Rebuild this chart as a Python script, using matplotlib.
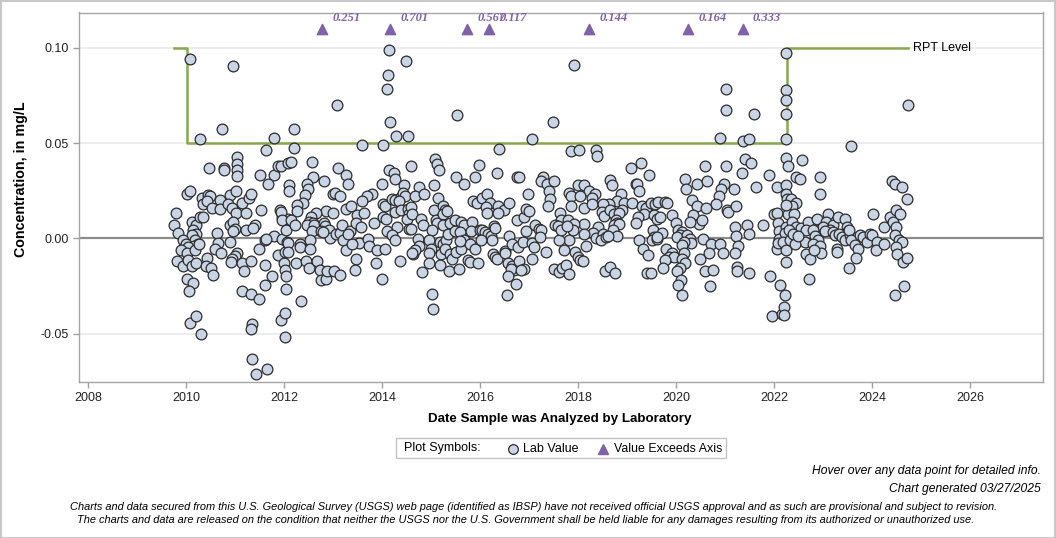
import matplotlib
matplotlib.use("Agg")
import matplotlib.pyplot as plt
import matplotlib.transforms as mtransforms
from matplotlib.lines import Line2D
from matplotlib.patches import Rectangle

plt.rcParams['font.family'] = ['Liberation Sans', 'DejaVu Sans']

# ---------------- data ----------------
# Lab values (decimal year of analysis, concentration mg/L)
dates_2009_2012 = [
    2010.09, 2010.95, 2010.74, 2010.29, 2011.80, 2011.63, 2011.05, 2011.05, 2011.05, 2011.05,
    2010.46, 2010.78, 2010.78, 2011.50, 2011.80, 2011.68, 2011.88, 2011.93, 2012.09, 2010.03,
    2010.09, 2010.33, 2010.44, 2010.49, 2010.35, 2010.42, 2010.70, 2010.54, 2010.70, 2010.90,
    2011.02, 2010.86, 2010.93, 2011.15, 2011.29, 2011.32, 2011.02, 2011.22, 2011.54, 2011.92,
    2011.96, 2012.09, 2009.80, 2009.76, 2009.84, 2010.12, 2010.20, 2010.29, 2010.35, 2010.15,
    2010.20, 2010.12, 2010.18, 2009.94, 2010.00, 2010.25, 2010.17, 2010.05, 2009.90, 2010.01,
    2010.18, 2010.27, 2010.64, 2010.66, 2010.59, 2010.71, 2010.90, 2010.96, 2010.99, 2010.95,
    2010.90, 2011.22, 2011.41, 2011.37, 2011.05, 2011.00, 2010.93, 2010.91, 2011.14, 2011.18,
    2011.33, 2009.81, 2009.94, 2010.05, 2010.12, 2010.20, 2010.42, 2010.41, 2010.52, 2010.56,
    2010.03, 2010.15, 2010.06, 2011.14, 2011.32, 2011.48, 2011.61, 2011.76, 2011.61, 2011.48,
    2011.61, 2011.80, 2011.95, 2011.63, 2011.88, 2012.00, 2012.03, 2012.05, 2012.04, 2011.94,
    2011.96, 2012.05, 2012.07, 2012.03, 2010.08, 2010.20, 2010.31, 2011.34, 2011.32, 2011.35,
    2011.43, 2011.66, 2011.94, 2012.03, 2012.01,
]
conc_2009_2012 = [
    0.0943, 0.0906, 0.0575, 0.0520, 0.0528, 0.0465, 0.0429, 0.0388, 0.0357, 0.0329,
    0.0367, 0.0369, 0.0360, 0.0330, 0.0330, 0.0287, 0.0378, 0.0378, 0.0395, 0.0234,
    0.0247, 0.0211, 0.0229, 0.0220, 0.0178, 0.0194, 0.0199, 0.0159, 0.0156, 0.0229,
    0.0247, 0.0178, 0.0159, 0.0187, 0.0211, 0.0234, 0.0133, 0.0133, 0.0147, 0.0147,
    0.0112, 0.0100, 0.0133, 0.0068, 0.0028, 0.0086, 0.0068, 0.0112, 0.0112, 0.0042,
    0.0025, 0.0016, -0.0007, -0.0007, -0.0028, -0.0031, -0.0042, -0.0045, -0.0063, -0.0075,
    -0.0063, -0.0031, 0.0028, -0.0023, -0.0054, -0.0077, 0.0068, 0.0086, 0.0051, 0.0038,
    -0.0021, 0.0046, 0.0068, 0.0056, -0.0075, -0.0094, -0.0110, -0.0124, -0.0130, -0.0171,
    -0.0121, -0.0119, -0.0145, -0.0112, -0.0145, -0.0130, -0.0101, -0.0145, -0.0154, -0.0190,
    -0.0211, -0.0232, -0.0278, -0.0276, -0.0290, -0.0320, -0.0142, -0.0199, -0.0243, -0.0054,
    -0.0010, 0.0010, -0.0002, -0.0005, -0.0089, -0.0130, -0.0164, -0.0198, -0.0264, 0.0138,
    0.0098, 0.0046, -0.0019, -0.0072, -0.0442, -0.0409, -0.0500, -0.0451, -0.0474, -0.0631,
    -0.0710, -0.0684, -0.0430, -0.0390, -0.0518,
]

dates_2012_2014 = [
    2014.14, 2014.48, 2014.12, 2014.11, 2013.09, 2014.17, 2012.20, 2012.20, 2013.60, 2014.03,
    2014.29, 2014.53, 2012.14, 2012.58, 2013.10, 2013.27, 2013.31, 2012.60, 2012.82, 2012.11,
    2012.11, 2012.46, 2012.48, 2012.42, 2012.38, 2012.26, 2012.26, 2014.14, 2014.24, 2014.26,
    2014.00, 2014.45, 2014.60, 2013.00, 2013.05, 2013.15, 2013.80, 2013.69, 2013.59, 2013.27,
    2013.37, 2012.86, 2013.00, 2012.66, 2012.56, 2012.52, 2012.59, 2012.14, 2012.22, 2012.46,
    2012.61, 2012.82, 2012.83, 2012.57, 2012.76, 2012.91, 2012.93, 2012.80, 2013.07, 2013.14,
    2013.19, 2013.20, 2013.34, 2013.31, 2013.48, 2013.63, 2013.84, 2013.46, 2013.58, 2014.03,
    2014.07, 2014.02, 2014.09, 2014.10, 2014.20, 2014.27, 2014.38, 2014.43, 2014.46, 2014.34,
    2014.26, 2014.39, 2014.54, 2014.56, 2014.50, 2014.31, 2014.56, 2013.53, 2013.71, 2013.73,
    2013.90, 2014.07, 2014.21, 2014.27, 2012.08, 2012.32, 2012.33, 2012.54, 2012.53, 2012.08,
    2013.26, 2013.39, 2012.25, 2012.44, 2012.50, 2012.68, 2012.73, 2012.76, 2012.85, 2012.88,
    2013.03, 2013.14, 2013.46, 2013.44, 2013.88, 2013.99, 2014.37, 2014.63, 2012.35,
]
conc_2012_2014 = [
    0.0986, 0.0929, 0.0855, 0.0785, 0.0698, 0.0609, 0.0575, 0.0476, 0.0488, 0.0488,
    0.0535, 0.0535, 0.0399, 0.0399, 0.0367, 0.0330, 0.0287, 0.0320, 0.0299, 0.0278,
    0.0247, 0.0287, 0.0257, 0.0229, 0.0187, 0.0177, 0.0144, 0.0357, 0.0345, 0.0310,
    0.0287, 0.0278, 0.0378, 0.0231, 0.0238, 0.0220, 0.0234, 0.0222, 0.0196, 0.0156,
    0.0168, 0.0144, 0.0135, 0.0135, 0.0112, 0.0086, 0.0080, 0.0098, 0.0068, 0.0068,
    0.0068, 0.0080, 0.0063, 0.0037, 0.0038, 0.0046, 0.0004, 0.0033, 0.0021, 0.0028,
    0.0072, -0.0010, 0.0038, 0.0025, 0.0121, 0.0135, 0.0080, 0.0080, 0.0059, 0.0182,
    0.0168, 0.0112, 0.0100, 0.0038, 0.0205, 0.0199, 0.0217, 0.0236, 0.0223, 0.0194,
    0.0138, 0.0147, 0.0156, 0.0130, 0.0100, 0.0059, 0.0051, -0.0025, -0.0002, -0.0042,
    -0.0063, -0.0054, 0.0016, -0.0010, -0.0025, -0.0031, -0.0045, -0.0010, -0.0054, -0.0072,
    -0.0063, -0.0031, -0.0130, -0.0119, -0.0154, -0.0121, -0.0164, -0.0217, -0.0211, -0.0171,
    -0.0173, -0.0190, -0.0110, -0.0164, -0.0130, -0.0211, -0.0121, -0.0080, -0.0331,
]

dates_2014_2017 = [
    2015.53, 2017.06, 2016.39, 2015.08, 2015.13, 2015.17, 2015.50, 2015.68, 2015.89, 2015.97,
    2016.35, 2016.76, 2016.80, 2014.76, 2014.67, 2014.85, 2015.07, 2015.15, 2014.59, 2014.62,
    2014.80, 2014.83, 2014.59, 2014.73, 2014.76, 2014.67, 2014.62, 2015.07, 2015.10, 2015.13,
    2015.25, 2015.29, 2015.24, 2015.32, 2015.25, 2015.02, 2014.96, 2015.01, 2014.96, 2015.19,
    2015.25, 2015.31, 2015.34, 2015.20, 2015.29, 2015.39, 2015.43, 2015.51, 2015.61, 2014.96,
    2014.82, 2015.19, 2015.36, 2015.58, 2015.75, 2015.80, 2015.95, 2015.02, 2015.05, 2015.39,
    2015.48, 2015.61, 2015.68, 2015.84, 2015.48, 2015.60, 2015.82, 2015.68, 2015.80, 2015.90,
    2015.60, 2015.85, 2015.94, 2016.04, 2016.14, 2016.20, 2016.12, 2016.14, 2016.37, 2016.48,
    2016.37, 2016.60, 2015.99, 2016.05, 2016.10, 2016.16, 2016.22, 2016.24, 2016.03, 2016.29,
    2016.31, 2016.27, 2016.31, 2016.35, 2016.51, 2016.50, 2016.60, 2016.58, 2016.66, 2016.70,
    2016.63, 2016.80, 2016.90, 2016.84, 2016.58, 2016.73, 2016.55, 2016.65, 2016.77, 2016.87,
    2016.94, 2016.76, 2016.90, 2016.97, 2016.94, 2017.01, 2017.07, 2017.11, 2017.07, 2017.12,
]
conc_2014_2017 = [
    0.0645, 0.0520, 0.0467, 0.0418, 0.0388, 0.0357, 0.0320, 0.0287, 0.0320, 0.0387,
    0.0345, 0.0320, 0.0320, 0.0269, 0.0222, 0.0231, 0.0278, 0.0211, 0.0164, 0.0130,
    0.0100, 0.0068, 0.0051, -0.0002, -0.0042, -0.0063, -0.0075, 0.0147, 0.0094, 0.0080,
    0.0170, 0.0147, 0.0130, 0.0144, 0.0072, 0.0046, -0.0010, -0.0054, -0.0075, -0.0019,
    -0.0031, -0.0010, 0.0025, -0.0080, -0.0054, -0.0080, -0.0107, -0.0072, -0.0054, -0.0130,
    -0.0177, -0.0142, -0.0173, -0.0163, -0.0115, -0.0124, -0.0130, -0.0290, -0.0372, 0.0080,
    0.0094, 0.0086, 0.0068, 0.0086, 0.0038, 0.0033, 0.0038, -0.0010, -0.0031, -0.0054,
    -0.0014, 0.0196, 0.0187, 0.0211, 0.0231, 0.0187, 0.0164, 0.0135, 0.0170, 0.0147,
    0.0135, 0.0187, 0.0042, 0.0046, 0.0033, 0.0025, 0.0010, -0.0010, -0.0010, 0.0065,
    0.0054, -0.0080, -0.0098, -0.0110, -0.0066, -0.0077, 0.0012, -0.0130, -0.0147, -0.0164,
    -0.0159, -0.0119, -0.0159, -0.0168, -0.0199, -0.0241, -0.0299, -0.0028, -0.0045, -0.0019,
    0.0038, 0.0098, 0.0112, 0.0234, 0.0156, 0.0144, -0.0025, -0.0045, -0.0107, 0.0068,
]

dates_2017_2019 = [
    2017.92, 2017.48, 2017.86, 2018.02, 2018.36, 2018.38, 2019.09, 2019.29, 2019.45, 2017.29,
    2017.25, 2017.37, 2017.50, 2017.41, 2017.42, 2017.39, 2018.00, 2018.12, 2018.22, 2018.35,
    2018.28, 2017.82, 2017.86, 2018.04, 2018.12, 2017.86, 2018.29, 2018.66, 2018.70, 2018.88,
    2018.80, 2018.94, 2019.11, 2018.90, 2018.63, 2018.51, 2018.48, 2018.53, 2018.65, 2019.18,
    2019.21, 2019.24, 2019.31, 2019.38, 2019.48, 2019.58, 2019.35, 2019.22, 2019.18, 2018.73,
    2018.84, 2018.77, 2018.80, 2018.73, 2018.84, 2018.71, 2018.79, 2018.41, 2018.31, 2018.36,
    2018.50, 2018.46, 2018.58, 2018.61, 2018.12, 2018.13, 2018.17, 2017.82, 2017.61, 2017.63,
    2017.65, 2017.54, 2017.59, 2017.65, 2017.80, 2017.91, 2017.89, 2017.78, 2017.20, 2017.24,
    2017.22, 2017.34, 2017.71, 2017.94, 2017.99, 2018.05, 2018.11, 2017.52, 2017.61, 2017.67,
    2017.75, 2017.82, 2018.55, 2018.65, 2018.76, 2019.24, 2019.33, 2019.43, 2019.40, 2019.48,
    2019.54, 2019.55, 2019.52, 2019.62, 2019.63, 2019.56, 2019.62,
]
conc_2017_2019 = [
    0.0907, 0.0609, 0.0456, 0.0465, 0.0465, 0.0430, 0.0369, 0.0397, 0.0334, 0.0322,
    0.0299, 0.0287, 0.0299, 0.0247, 0.0208, 0.0170, 0.0278, 0.0278, 0.0248, 0.0231,
    0.0211, 0.0238, 0.0220, 0.0220, 0.0159, 0.0168, 0.0178, 0.0304, 0.0278, 0.0234,
    0.0196, 0.0185, 0.0187, 0.0147, 0.0182, 0.0178, 0.0138, 0.0115, 0.0150, 0.0287,
    0.0287, 0.0247, 0.0170, 0.0159, 0.0187, 0.0182, 0.0130, 0.0112, 0.0080, 0.0130,
    0.0133, 0.0094, 0.0080, 0.0068, 0.0077, 0.0046, 0.0010, 0.0059, 0.0028, 0.0004,
    0.0025, -0.0010, 0.0007, 0.0010, 0.0077, 0.0021, -0.0042, -0.0010, -0.0010, 0.0133,
    0.0098, 0.0072, 0.0063, 0.0046, 0.0094, 0.0077, 0.0042, 0.0063, 0.0051, 0.0046,
    0.0007, -0.0072, -0.0063, -0.0072, -0.0098, -0.0115, -0.0121, -0.0159, -0.0177, -0.0156,
    -0.0142, -0.0189, -0.0173, -0.0150, -0.0180, -0.0010, -0.0054, -0.0089, -0.0180, -0.0180,
    0.0046, 0.0007, -0.0010, -0.0002, 0.0192, 0.0121, 0.0103,
]

dates_2019_2022 = [
    2021.02, 2021.02, 2021.59, 2020.90, 2021.37, 2021.50, 2021.41, 2021.54, 2020.60, 2021.03,
    2020.19, 2020.21, 2020.43, 2020.63, 2020.98, 2020.92, 2020.87, 2020.82, 2021.18, 2021.35,
    2021.63, 2021.90, 2022.07, 2020.33, 2020.43, 2020.62, 2020.35, 2020.46, 2020.53, 2020.29,
    2021.05, 2021.07, 2021.23, 2019.78, 2019.82, 2019.68, 2019.92, 2020.01, 2020.05, 2019.71,
    2019.61, 2020.12, 2020.09, 2020.02, 2020.22, 2020.28, 2020.31, 2020.16, 2020.12, 2019.80,
    2019.92, 2019.85, 2019.95, 2020.16, 2019.78, 2019.73, 2020.12, 2020.18, 2020.09, 2020.03,
    2020.11, 2020.04, 2020.12, 2020.55, 2020.72, 2020.90, 2020.68, 2020.48, 2020.59, 2020.75,
    2020.95, 2020.70, 2021.21, 2021.22, 2021.26, 2021.21, 2021.24, 2021.24, 2021.50, 2021.45,
    2021.50, 2021.78, 2021.92, 2021.96, 2021.99, 2022.07, 2022.09, 2022.11, 2022.11, 2022.06,
    2022.09, 2022.13, 2022.16,
]
conc_2019_2022 = [
    0.0785, 0.0675, 0.0654, 0.0528, 0.0509, 0.0520, 0.0418, 0.0397, 0.0378, 0.0378,
    0.0310, 0.0257, 0.0287, 0.0299, 0.0287, 0.0257, 0.0222, 0.0178, 0.0257, 0.0345,
    0.0268, 0.0330, 0.0268, 0.0199, 0.0168, 0.0159, 0.0121, 0.0077, 0.0098, 0.0086,
    0.0147, 0.0138, 0.0170, 0.0190, 0.0185, 0.0112, 0.0121, 0.0080, 0.0046, 0.0028,
    0.0007, 0.0033, 0.0016, 0.0007, 0.0016, -0.0002, -0.0025, -0.0019, -0.0037, -0.0054,
    -0.0075, -0.0098, -0.0098, -0.0075, -0.0112, -0.0156, -0.0107, -0.0130, -0.0156, -0.0173,
    -0.0220, -0.0243, -0.0299, -0.0002, -0.0031, -0.0031, -0.0077, -0.0110, -0.0171, -0.0164,
    -0.0075, -0.0252, 0.0059, 0.0010, -0.0042, -0.0075, -0.0150, -0.0171, -0.0180, 0.0068,
    0.0021, 0.0068, -0.0199, -0.0409, 0.0130, 0.0133, 0.0080, 0.0038, -0.0002, -0.0054,
    -0.0025, -0.0243, -0.0395,
]

dates_2022_2025 = [
    2022.24, 2022.24, 2022.24, 2022.24, 2022.24, 2024.74, 2023.57, 2022.24, 2022.29, 2022.58,
    2022.44, 2022.53, 2022.94, 2022.94, 2022.24, 2022.24, 2022.26, 2022.35, 2022.45, 2022.36,
    2022.29, 2022.40, 2022.24, 2022.24, 2022.22, 2022.19, 2022.24, 2022.24, 2022.22, 2022.20,
    2022.20, 2022.37, 2022.45, 2022.56, 2022.70, 2022.65, 2022.63, 2022.65, 2022.73, 2022.72,
    2022.88, 2023.11, 2023.07, 2023.21, 2023.31, 2023.45, 2023.48, 2023.52, 2022.94, 2023.01,
    2023.14, 2022.80, 2022.84, 2022.90, 2022.79, 2022.94, 2022.95, 2022.82, 2023.04, 2023.21,
    2023.24, 2023.33, 2023.38, 2023.45, 2023.55, 2023.54, 2023.28, 2023.28, 2023.58, 2023.65,
    2023.72, 2023.67, 2023.54, 2023.76, 2023.82, 2023.89, 2023.96, 2024.01, 2024.10, 2024.08,
    2024.24, 2024.03, 2024.24, 2024.37, 2024.43, 2024.50, 2024.57, 2024.50, 2024.47, 2024.56,
    2024.61, 2024.50, 2024.52, 2024.64, 2024.72, 2024.65, 2024.47, 2024.40, 2024.47, 2024.61,
    2024.72, 2022.30, 2022.33, 2022.38, 2022.42, 2022.50,
]
conc_2022_2025 = [
    0.0974, 0.0776, 0.0728, 0.0654, 0.0520, 0.0698, 0.0486, 0.0421, 0.0378, 0.0409,
    0.0322, 0.0311, 0.0320, 0.0234, 0.0278, 0.0234, 0.0208, 0.0208, 0.0185, 0.0170,
    0.0130, 0.0130, 0.0173, 0.0059, 0.0028, -0.0019, -0.0063, -0.0124, -0.0299, -0.0360,
    -0.0400, 0.0086, 0.0059, 0.0054, 0.0086, 0.0046, -0.0019, -0.0080, -0.0110, -0.0211,
    0.0100, 0.0130, 0.0086, 0.0068, 0.0112, 0.0100, 0.0059, 0.0038, 0.0051, 0.0059,
    0.0046, 0.0042, 0.0010, -0.0007, -0.0031, -0.0042, -0.0075, -0.0063, 0.0038, 0.0033,
    0.0016, 0.0025, 0.0007, -0.0010, 0.0016, 0.0046, -0.0054, -0.0072, -0.0010, -0.0037,
    -0.0054, -0.0101, -0.0154, 0.0016, 0.0007, -0.0019, 0.0025, 0.0016, -0.0019, -0.0063,
    -0.0031, 0.0130, 0.0059, 0.0112, 0.0086, 0.0147, 0.0130, 0.0059, 0.0016, -0.0010,
    -0.0019, -0.0045, -0.0080, -0.0124, -0.0101, -0.0252, -0.0299, 0.0299, 0.0287, 0.0270,
    0.0208, 0.0042, -0.0007, 0.0021, -0.0028, 0.0012,
]

# Values exceeding the axis (shown as triangles with labels)
exceed_dates = [2012.77, 2014.16, 2015.73, 2016.18, 2018.22, 2020.24, 2021.36]
exceed_values = [0.251, 0.701, 0.567, 0.117, 0.144, 0.164, 0.333]

# Reporting level (step changes)
rpt_dates = [2009.76, 2010.03, 2022.26, 2024.73]
rpt_levels = [0.10, 0.05, 0.10, 0.10]

x_ticks = [2008, 2010, 2012, 2014, 2016, 2018, 2020, 2022, 2024, 2026]
y_ticks = [-0.05, 0.00, 0.05, 0.10]
y_tick_labels = ['-0.05', '0.00', '0.05', '0.10']

dates = (dates_2009_2012 + dates_2012_2014 + dates_2014_2017 + dates_2017_2019
         + dates_2019_2022 + dates_2022_2025)
values = (conc_2009_2012 + conc_2012_2014 + conc_2014_2017 + conc_2017_2019
          + conc_2019_2022 + conc_2022_2025)

# ---------------- figure ----------------
W, H = 1056, 538
fig = plt.figure(figsize=(W / 100, H / 100), dpi=100)
ax = fig.add_axes([79 / W, 1 - 382 / H, (1043 - 79) / W, (382 - 12.5) / H])
ax.set_xlim(2007.816, 2027.49)
ax.set_ylim(-0.0754, 0.1185)

purple = '#7f62a8'
green = '#87a84c'
fill = '#c9d5e5'
edge = '#2b2b2b'

for yv in [-0.05, 0.05, 0.10]:
    ax.axhline(yv, color='#ebebeb', lw=1.3, zorder=0)
ax.axhline(0, color='#8c8c8c', lw=1.6, zorder=1)

ax.plot(rpt_dates, rpt_levels, drawstyle='steps-post', color=green, lw=1.8, zorder=2)
ax.annotate('RPT Level', xy=(rpt_dates[-1], rpt_levels[-1]), xytext=(4, 0),
            textcoords='offset points', va='center', ha='left', fontsize=9, color='black')

ax.scatter(dates, values, s=60, facecolor=fill, edgecolor=edge, linewidth=0.9, zorder=3)

trans = mtransforms.blended_transform_factory(ax.transData, ax.transAxes)
ax.scatter(exceed_dates, [0.955] * len(exceed_dates), transform=trans, marker='^',
           s=55, color=purple, zorder=4, clip_on=False)
for d, v in zip(exceed_dates, exceed_values):
    ax.annotate(f'{v:.3f}', xy=(d, 0.955), xycoords=trans, xytext=(7.5, 8.2),
                textcoords='offset points', va='center', ha='left', fontsize=9,
                fontweight='bold', fontstyle='italic', family='Liberation Serif',
                color=purple)

ax.set_xticks(x_ticks)
ax.set_xticklabels([str(t) for t in x_ticks])
ax.set_yticks(y_ticks)
ax.set_yticklabels(y_tick_labels)
ax.tick_params(axis='both', direction='out', length=4.5, width=1, color='#a0a0a0',
               labelsize=9, labelcolor='#222222', pad=3)
for sp in ax.spines.values():
    sp.set_color('#a5a5a5')
    sp.set_linewidth(1)

fig.text(560 / W, 1 - 419 / H, 'Date Sample was Analyzed by Laboratory', ha='center',
         va='center', fontsize=9.6, fontweight='bold')
fig.text(21 / W, 1 - 179 / H, 'Concentration, in mg/L', ha='center', va='center',
         rotation=90, fontsize=10.3, fontweight='bold')

# legend box
fig.add_artist(Rectangle((396 / W, 1 - 458 / H), 330 / W, 20 / H, transform=fig.transFigure,
                         fill=False, edgecolor='#c4c4c4', lw=1))
ly = 1 - 448.5 / H
fig.text(404 / W, ly, 'Plot Symbols:', ha='left', va='center', fontsize=9)
fig.add_artist(Line2D([513 / W], [ly], marker='o', ms=7, mfc=fill, mec=edge, mew=0.9,
                      transform=fig.transFigure))
fig.text(523 / W, ly, 'Lab Value', ha='left', va='center', fontsize=9)
fig.add_artist(Line2D([603 / W], [ly], marker='^', ms=7.5, mfc=purple, mec=purple,
                      transform=fig.transFigure))
fig.text(614 / W, ly, 'Value Exceeds Axis', ha='left', va='center', fontsize=8.9)

fig.text(1041 / W, 1 - 471 / H, 'Hover over any data point for detailed info.', ha='right',
         va='center', fontsize=8.7, fontstyle='italic')
fig.text(1041 / W, 1 - 489 / H, 'Chart generated 03/27/2025', ha='right', va='center',
         fontsize=8.7, fontstyle='italic')
fig.text(533.5 / W, 1 - 507 / H,
         'Charts and data secured from this U.S. Geological Survey (USGS) web page (identified as IBSP) '
         'have not received official USGS approval and as such are provisional and subject to revision.',
         ha='center', va='center', fontsize=7.9, fontstyle='italic')
fig.text(526 / W, 1 - 520 / H,
         'The charts and data are released on the condition that neither the USGS nor the U.S. Government '
         'shall be held liable for any damages resulting from its authorized or unauthorized use.',
         ha='center', va='center', fontsize=7.9, fontstyle='italic')

fig.add_artist(Rectangle((0.5 / W, 0.5 / H), 1 - 1.5 / W, 1 - 1.5 / H, transform=fig.transFigure,
                         fill=False, edgecolor='#c8c8c8', lw=1.5))

fig.savefig('out.png', dpi=100)
